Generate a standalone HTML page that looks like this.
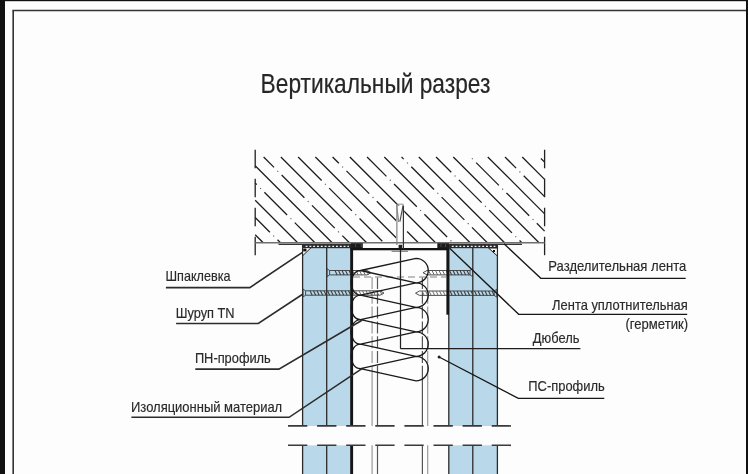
<!DOCTYPE html><html><head><meta charset="utf-8"><style>html,body{margin:0;padding:0;background:#fdfdfd;overflow:hidden}</style></head><body><svg width="748" height="474" viewBox="0 0 748 474" style="display:block;font-family:'Liberation Sans',sans-serif"><rect x="0" y="0" width="748" height="474" fill="#fdfdfd"/><rect x="0" y="0" width="5" height="474" fill="#111"/><rect x="0" y="0" width="748" height="1.2" fill="#111"/><rect x="746" y="0" width="2" height="474" fill="#111"/><line x1="13.2" y1="10.6" x2="13.2" y2="474" stroke="#333" stroke-width="1.6"/><line x1="12.4" y1="10.6" x2="746" y2="10.6" stroke="#333" stroke-width="1.5"/><text x="260.6" y="92.5" font-size="27.2" textLength="229.8" lengthAdjust="spacingAndGlyphs" fill="#262626" stroke="#262626" stroke-width="0.2" style="filter:grayscale(1)">Вертикальный разрез</text><g stroke-linecap="butt"><line x1="255.20" y1="234.76" x2="263.24" y2="242.80" stroke="#1a1a1a" stroke-width="1.25"/><line x1="255.20" y1="217.52" x2="269.89" y2="232.21" stroke="#1a1a1a" stroke-width="1.25"/><line x1="273.29" y1="235.61" x2="274.09" y2="236.41" stroke="#555" stroke-width="1.1"/><line x1="277.49" y1="239.81" x2="280.48" y2="242.80" stroke="#1a1a1a" stroke-width="1.25"/><line x1="255.20" y1="200.28" x2="297.72" y2="242.80" stroke="#1a1a1a" stroke-width="1.25"/><line x1="255.20" y1="183.04" x2="256.78" y2="184.62" stroke="#1a1a1a" stroke-width="1.25"/><line x1="260.18" y1="188.02" x2="260.98" y2="188.82" stroke="#555" stroke-width="1.1"/><line x1="264.38" y1="192.22" x2="287.13" y2="214.97" stroke="#1a1a1a" stroke-width="1.25"/><line x1="290.53" y1="218.37" x2="291.33" y2="219.17" stroke="#555" stroke-width="1.1"/><line x1="294.73" y1="222.57" x2="314.96" y2="242.80" stroke="#1a1a1a" stroke-width="1.25"/><line x1="255.20" y1="165.80" x2="332.20" y2="242.80" stroke="#1a1a1a" stroke-width="1.25"/><line x1="263.64" y1="157.00" x2="274.02" y2="167.38" stroke="#1a1a1a" stroke-width="1.25"/><line x1="277.42" y1="170.78" x2="278.22" y2="171.58" stroke="#555" stroke-width="1.1"/><line x1="281.62" y1="174.98" x2="304.37" y2="197.73" stroke="#1a1a1a" stroke-width="1.25"/><line x1="307.77" y1="201.13" x2="308.57" y2="201.93" stroke="#555" stroke-width="1.1"/><line x1="311.97" y1="205.33" x2="334.72" y2="228.08" stroke="#1a1a1a" stroke-width="1.25"/><line x1="338.12" y1="231.48" x2="338.92" y2="232.28" stroke="#555" stroke-width="1.1"/><line x1="342.32" y1="235.68" x2="349.44" y2="242.80" stroke="#1a1a1a" stroke-width="1.25"/><line x1="280.88" y1="157.00" x2="366.68" y2="242.80" stroke="#1a1a1a" stroke-width="1.25"/><line x1="298.12" y1="157.00" x2="321.61" y2="180.49" stroke="#1a1a1a" stroke-width="1.25"/><line x1="325.01" y1="183.89" x2="325.81" y2="184.69" stroke="#555" stroke-width="1.1"/><line x1="329.21" y1="188.09" x2="351.96" y2="210.84" stroke="#1a1a1a" stroke-width="1.25"/><line x1="355.36" y1="214.24" x2="356.16" y2="215.04" stroke="#555" stroke-width="1.1"/><line x1="359.56" y1="218.44" x2="382.31" y2="241.19" stroke="#1a1a1a" stroke-width="1.25"/><line x1="315.36" y1="157.00" x2="401.16" y2="242.80" stroke="#1a1a1a" stroke-width="1.25"/><line x1="332.60" y1="157.00" x2="338.85" y2="163.25" stroke="#1a1a1a" stroke-width="1.25"/><line x1="342.25" y1="166.65" x2="343.05" y2="167.45" stroke="#555" stroke-width="1.1"/><line x1="346.45" y1="170.85" x2="369.20" y2="193.60" stroke="#1a1a1a" stroke-width="1.25"/><line x1="372.60" y1="197.00" x2="373.40" y2="197.80" stroke="#555" stroke-width="1.1"/><line x1="376.80" y1="201.20" x2="399.55" y2="223.95" stroke="#1a1a1a" stroke-width="1.25"/><line x1="402.95" y1="227.35" x2="403.75" y2="228.15" stroke="#555" stroke-width="1.1"/><line x1="407.15" y1="231.55" x2="418.40" y2="242.80" stroke="#1a1a1a" stroke-width="1.25"/><line x1="349.84" y1="157.00" x2="435.64" y2="242.80" stroke="#1a1a1a" stroke-width="1.25"/><line x1="367.08" y1="157.00" x2="386.44" y2="176.36" stroke="#1a1a1a" stroke-width="1.25"/><line x1="389.84" y1="179.76" x2="390.64" y2="180.56" stroke="#555" stroke-width="1.1"/><line x1="394.04" y1="183.96" x2="416.79" y2="206.71" stroke="#1a1a1a" stroke-width="1.25"/><line x1="420.19" y1="210.11" x2="420.99" y2="210.91" stroke="#555" stroke-width="1.1"/><line x1="424.39" y1="214.31" x2="447.14" y2="237.06" stroke="#1a1a1a" stroke-width="1.25"/><line x1="450.54" y1="240.46" x2="451.34" y2="241.26" stroke="#555" stroke-width="1.1"/><line x1="384.32" y1="157.00" x2="470.12" y2="242.80" stroke="#1a1a1a" stroke-width="1.25"/><line x1="401.56" y1="157.00" x2="403.68" y2="159.12" stroke="#1a1a1a" stroke-width="1.25"/><line x1="407.08" y1="162.52" x2="407.88" y2="163.32" stroke="#555" stroke-width="1.1"/><line x1="411.28" y1="166.72" x2="434.03" y2="189.47" stroke="#1a1a1a" stroke-width="1.25"/><line x1="437.43" y1="192.87" x2="438.23" y2="193.67" stroke="#555" stroke-width="1.1"/><line x1="441.63" y1="197.07" x2="464.38" y2="219.82" stroke="#1a1a1a" stroke-width="1.25"/><line x1="467.78" y1="223.22" x2="468.58" y2="224.02" stroke="#555" stroke-width="1.1"/><line x1="471.98" y1="227.42" x2="487.36" y2="242.80" stroke="#1a1a1a" stroke-width="1.25"/><line x1="418.80" y1="157.00" x2="504.60" y2="242.80" stroke="#1a1a1a" stroke-width="1.25"/><line x1="436.04" y1="157.00" x2="451.27" y2="172.23" stroke="#1a1a1a" stroke-width="1.25"/><line x1="454.67" y1="175.63" x2="455.47" y2="176.43" stroke="#555" stroke-width="1.1"/><line x1="458.87" y1="179.83" x2="481.62" y2="202.58" stroke="#1a1a1a" stroke-width="1.25"/><line x1="485.02" y1="205.98" x2="485.82" y2="206.78" stroke="#555" stroke-width="1.1"/><line x1="489.22" y1="210.18" x2="511.97" y2="232.93" stroke="#1a1a1a" stroke-width="1.25"/><line x1="515.37" y1="236.33" x2="516.17" y2="237.13" stroke="#555" stroke-width="1.1"/><line x1="519.57" y1="240.53" x2="521.84" y2="242.80" stroke="#1a1a1a" stroke-width="1.25"/><line x1="453.28" y1="157.00" x2="539.08" y2="242.80" stroke="#1a1a1a" stroke-width="1.25"/><line x1="471.91" y1="158.39" x2="472.71" y2="159.19" stroke="#555" stroke-width="1.1"/><line x1="476.11" y1="162.59" x2="498.86" y2="185.34" stroke="#1a1a1a" stroke-width="1.25"/><line x1="502.26" y1="188.74" x2="503.06" y2="189.54" stroke="#555" stroke-width="1.1"/><line x1="506.46" y1="192.94" x2="529.21" y2="215.69" stroke="#1a1a1a" stroke-width="1.25"/><line x1="532.61" y1="219.09" x2="533.41" y2="219.89" stroke="#555" stroke-width="1.1"/><line x1="536.81" y1="223.29" x2="544.60" y2="231.08" stroke="#1a1a1a" stroke-width="1.25"/><line x1="487.76" y1="157.00" x2="544.60" y2="213.84" stroke="#1a1a1a" stroke-width="1.25"/><line x1="505.00" y1="157.00" x2="516.10" y2="168.10" stroke="#1a1a1a" stroke-width="1.25"/><line x1="519.50" y1="171.50" x2="520.30" y2="172.30" stroke="#555" stroke-width="1.1"/><line x1="523.70" y1="175.70" x2="544.60" y2="196.60" stroke="#1a1a1a" stroke-width="1.25"/><line x1="522.24" y1="157.00" x2="544.60" y2="179.36" stroke="#1a1a1a" stroke-width="1.25"/><line x1="540.94" y1="158.46" x2="544.60" y2="162.12" stroke="#1a1a1a" stroke-width="1.25"/></g><line x1="255.2" y1="149.7" x2="255.2" y2="255.2" stroke="#222" stroke-width="1.3" stroke-dasharray="18.6 10.4"/><line x1="544.6" y1="149.7" x2="544.6" y2="255.2" stroke="#222" stroke-width="1.3" stroke-dasharray="18.6 10.4"/><rect x="396.0" y="205.5" width="8.2" height="37" fill="#fdfdfd"/><line x1="255.2" y1="242.8" x2="544.6" y2="242.8" stroke="#6f6f6f" stroke-width="1.5"/><line x1="278.5" y1="244.3" x2="351" y2="244.3" stroke="#333" stroke-width="1.3"/><line x1="449" y1="244.3" x2="522" y2="244.3" stroke="#333" stroke-width="1.3"/><rect x="302.6" y="245" width="48.299999999999955" height="181" fill="#b9d9eb"/><rect x="302.6" y="445.3" width="48.299999999999955" height="30" fill="#b9d9eb"/><line x1="302.6" y1="245" x2="302.6" y2="426" stroke="#2a2a2a" stroke-width="1.3"/><line x1="302.6" y1="445.3" x2="302.6" y2="474" stroke="#2a2a2a" stroke-width="1.3"/><line x1="326.7" y1="245" x2="326.7" y2="426" stroke="#2a2a2a" stroke-width="1.3"/><line x1="326.7" y1="445.3" x2="326.7" y2="474" stroke="#2a2a2a" stroke-width="1.3"/><line x1="350.9" y1="245" x2="350.9" y2="426" stroke="#2a2a2a" stroke-width="1.3"/><line x1="350.9" y1="445.3" x2="350.9" y2="474" stroke="#2a2a2a" stroke-width="1.3"/><rect x="302.6" y="244.6" width="48.299999999999955" height="3.6" fill="#2a2a2a"/><line x1="305.6" y1="246.4" x2="348.9" y2="246.4" stroke="#f4f4f4" stroke-width="1.2" stroke-dasharray="1.9 1.9"/><rect x="448.8" y="245" width="48.599999999999966" height="181" fill="#b9d9eb"/><rect x="448.8" y="445.3" width="48.599999999999966" height="30" fill="#b9d9eb"/><line x1="448.8" y1="245" x2="448.8" y2="426" stroke="#2a2a2a" stroke-width="1.3"/><line x1="448.8" y1="445.3" x2="448.8" y2="474" stroke="#2a2a2a" stroke-width="1.3"/><line x1="472.8" y1="245" x2="472.8" y2="426" stroke="#2a2a2a" stroke-width="1.3"/><line x1="472.8" y1="445.3" x2="472.8" y2="474" stroke="#2a2a2a" stroke-width="1.3"/><line x1="497.4" y1="245" x2="497.4" y2="426" stroke="#2a2a2a" stroke-width="1.3"/><line x1="497.4" y1="445.3" x2="497.4" y2="474" stroke="#2a2a2a" stroke-width="1.3"/><rect x="448.8" y="244.6" width="48.599999999999966" height="3.6" fill="#2a2a2a"/><line x1="451.8" y1="246.4" x2="495.4" y2="246.4" stroke="#f4f4f4" stroke-width="1.2" stroke-dasharray="1.9 1.9"/><path d="M302.6,247.6 L311.2,247.6 L302.6,255.8 Z" fill="#f4f4f4" stroke="#222" stroke-width="1"/><rect x="303.2" y="248.6" width="3.2" height="2.8" fill="#111"/><path d="M497.4,248 L488.5,248 L497.4,256 Z" fill="#f4f4f4" stroke="#222" stroke-width="1"/><rect x="493" y="250" width="2" height="2" fill="#111"/><line x1="372.1" y1="277" x2="372.1" y2="374" stroke="#9a9a9a" stroke-width="1.2" stroke-dasharray="12 2.8"/><line x1="372.1" y1="374" x2="372.1" y2="426" stroke="#9a9a9a" stroke-width="1.2"/><line x1="372.1" y1="445.3" x2="372.1" y2="474" stroke="#9a9a9a" stroke-width="1.2"/><line x1="377.5" y1="277" x2="377.5" y2="374" stroke="#555" stroke-width="1.2" stroke-dasharray="12 2.8"/><line x1="377.5" y1="374" x2="377.5" y2="426" stroke="#555" stroke-width="1.2"/><line x1="377.5" y1="445.3" x2="377.5" y2="474" stroke="#555" stroke-width="1.2"/><line x1="422.4" y1="277" x2="422.4" y2="374" stroke="#555" stroke-width="1.2" stroke-dasharray="12 2.8"/><line x1="422.4" y1="374" x2="422.4" y2="426" stroke="#555" stroke-width="1.2"/><line x1="422.4" y1="445.3" x2="422.4" y2="474" stroke="#555" stroke-width="1.2"/><line x1="427.7" y1="277" x2="427.7" y2="374" stroke="#9a9a9a" stroke-width="1.2" stroke-dasharray="12 2.8"/><line x1="427.7" y1="374" x2="427.7" y2="426" stroke="#9a9a9a" stroke-width="1.2"/><line x1="427.7" y1="445.3" x2="427.7" y2="474" stroke="#9a9a9a" stroke-width="1.2"/><line x1="353" y1="276.9" x2="446.3" y2="276.9" stroke="#aaa" stroke-width="1.5" stroke-dasharray="7 4"/><path d="M327.0,268.7 L327.0,276.7 M327.0,268.7 L329.6,270.5 L367,270.5 L371,272.7 L367,274.9 L329.6,274.9 L327.0,276.7 M329.6,270.5 L329.6,274.9" fill="none" stroke="#3a3a3a" stroke-width="0.9"/><path d="M335.0,270.5 L337.2,274.9 M338.5,270.5 L340.7,274.9 M342.0,270.5 L344.2,274.9 M345.5,270.5 L347.7,274.9 M349.0,270.5 L351.2,274.9" stroke="#3a3a3a" stroke-width="1.05"/><path d="M352.5,270.5 L354.7,274.9 M356.0,270.5 L358.2,274.9 M359.5,270.5 L361.7,274.9 M363.0,270.5 L365.2,274.9 M366.5,270.5 L368.7,274.9" stroke="#6a6a6a" stroke-width="1.0"/><path d="M303.0,289.0 L303.0,297.0 M303.0,289.0 L305.6,290.8 L380,290.8 L384,293.0 L380,295.2 L305.6,295.2 L303.0,297.0 M305.6,290.8 L305.6,295.2" fill="none" stroke="#3a3a3a" stroke-width="0.9"/><path d="M310.0,290.8 L312.2,295.2 M313.5,290.8 L315.7,295.2 M317.0,290.8 L319.2,295.2 M320.5,290.8 L322.7,295.2 M324.0,290.8 L326.2,295.2 M327.5,290.8 L329.7,295.2 M331.0,290.8 L333.2,295.2 M334.5,290.8 L336.7,295.2 M338.0,290.8 L340.2,295.2 M341.5,290.8 L343.7,295.2 M345.0,290.8 L347.2,295.2 M348.5,290.8 L350.7,295.2" stroke="#3a3a3a" stroke-width="1.05"/><path d="M352.0,290.8 L354.2,295.2 M355.5,290.8 L357.7,295.2 M359.0,290.8 L361.2,295.2 M362.5,290.8 L364.7,295.2 M366.0,290.8 L368.2,295.2 M369.5,290.8 L371.7,295.2 M373.0,290.8 L375.2,295.2 M376.5,290.8 L378.7,295.2 M380.0,290.8 L382.2,295.2" stroke="#6a6a6a" stroke-width="1.0"/><path d="M472.6,268.7 L472.6,276.7 M472.6,268.7 L470.0,270.5 L427,270.5 L423,272.7 L427,274.9 L470.0,274.9 L472.6,276.7 M470.0,270.5 L470.0,274.9" fill="none" stroke="#3a3a3a" stroke-width="0.9"/><path d="M467.0,270.5 L469.2,274.9 M463.5,270.5 L465.7,274.9 M460.0,270.5 L462.2,274.9 M456.5,270.5 L458.7,274.9 M453.0,270.5 L455.2,274.9 M449.5,270.5 L451.7,274.9" stroke="#3a3a3a" stroke-width="1.05"/><path d="M446.0,270.5 L448.2,274.9 M442.5,270.5 L444.7,274.9 M439.0,270.5 L441.2,274.9 M435.5,270.5 L437.7,274.9 M432.0,270.5 L434.2,274.9 M428.5,270.5 L430.7,274.9" stroke="#6a6a6a" stroke-width="1.0"/><path d="M496.8,289.2 L496.8,297.2 M496.8,289.2 L494.2,291.0 L419.5,291.0 L415.5,293.2 L419.5,295.4 L494.2,295.4 L496.8,297.2 M494.2,291.0 L494.2,295.4" fill="none" stroke="#3a3a3a" stroke-width="0.9"/><path d="M492.0,291.0 L494.2,295.4 M488.5,291.0 L490.7,295.4 M485.0,291.0 L487.2,295.4 M481.5,291.0 L483.7,295.4 M478.0,291.0 L480.2,295.4 M474.5,291.0 L476.7,295.4 M471.0,291.0 L473.2,295.4 M467.5,291.0 L469.7,295.4 M464.0,291.0 L466.2,295.4 M460.5,291.0 L462.7,295.4 M457.0,291.0 L459.2,295.4 M453.5,291.0 L455.7,295.4 M450.0,291.0 L452.2,295.4" stroke="#3a3a3a" stroke-width="1.05"/><path d="M446.5,291.0 L448.7,295.4 M443.0,291.0 L445.2,295.4 M439.5,291.0 L441.7,295.4 M436.0,291.0 L438.2,295.4 M432.5,291.0 L434.7,295.4 M429.0,291.0 L431.2,295.4 M425.5,291.0 L427.7,295.4 M422.0,291.0 L424.2,295.4" stroke="#6a6a6a" stroke-width="1.0"/><path d="M416.0,258.3 A12.25,12.25 0 0 1 416.0,282.8 M416.0,282.8 A12.25,12.25 0 0 1 416.0,307.3 M416.0,307.3 A12.25,12.25 0 0 1 416.0,331.8 M416.0,331.8 A12.25,12.25 0 0 1 416.0,356.3 M416.0,356.3 A12.25,12.25 0 0 1 416.0,380.8 M360.5,270.5 A9.5,12.275000000000006 0 0 0 360.5,295.05 M360.5,295.05 A9.5,12.275000000000006 0 0 0 360.5,319.6 M360.5,319.6 A9.5,12.274999999999977 0 0 0 360.5,344.15 M360.5,344.15 A9.5,12.275000000000006 0 0 0 360.5,368.7 M360.5,270.5 L416.0,258.3 M360.5,270.5 L416.0,282.8 M360.5,295.05 L416.0,282.8 M360.5,295.05 L416.0,307.3 M360.5,319.6 L416.0,307.3 M360.5,319.6 L416.0,331.8 M360.5,344.15 L416.0,331.8 M360.5,344.15 L416.0,356.3 M360.5,368.7 L416.0,356.3 M360.5,368.7 L416.0,380.8" fill="none" stroke="#1a1a1a" stroke-width="1.35"/><rect x="350.8" y="243.2" width="12" height="5" fill="#1c1c1c"/><path d="M355.6,244 L355.6,247 M361.2,244 L361.2,247" stroke="#555" stroke-width="0.8"/><rect x="437.3" y="243.2" width="11.7" height="5" fill="#1c1c1c"/><path d="M441,244 L441,247 M445.5,244 L445.5,247" stroke="#555" stroke-width="0.8"/><rect x="350.4" y="248" width="98.7" height="2.3" fill="#151515"/><rect x="350.6" y="248" width="2.5" height="178" fill="#151515"/><rect x="350.6" y="445.3" width="2.5" height="30" fill="#151515"/><rect x="446.4" y="248" width="2.7" height="66.7" fill="#151515"/><path d="M396.4,204.2 L403.6,204.2" stroke="#999" stroke-width="1.1" fill="none"/><path d="M396.9,204.6 L396.9,245" stroke="#777" stroke-width="1.1" fill="none"/><path d="M403.4,206 L403.4,249" stroke="#333" stroke-width="1.2" fill="none"/><path d="M396.6,205.4 L398.7,222" stroke="#888" stroke-width="1.2" fill="none"/><path d="M403.2,204.8 L399.9,221.6" stroke="#444" stroke-width="1.1" fill="none"/><rect x="398.6" y="244.8" width="3.6" height="3.4" fill="#222"/><line x1="391.6" y1="251.3" x2="408" y2="251.3" stroke="#888" stroke-width="1.3"/><line x1="400.5" y1="250" x2="400.5" y2="348.8" stroke="#222" stroke-width="1.25"/><rect x="290" y="426.7" width="230" height="18" fill="#fdfdfd"/><line x1="288" y1="425.9" x2="512" y2="425.9" stroke="#3a3a3a" stroke-width="1.6" stroke-dasharray="19.3 9.8"/><line x1="288" y1="445.3" x2="512" y2="445.3" stroke="#3a3a3a" stroke-width="1.6" stroke-dasharray="19.3 9.8"/><polyline points="165.9,287.6 249.8,287.6 302.5,252.3" fill="none" stroke="#2c2c2c" stroke-width="1.6"/><polyline points="176.1,323.5 258.3,323.5 303,294" fill="none" stroke="#2c2c2c" stroke-width="1.6"/><polyline points="195.3,369.1 278.9,369.1 362,320.3" fill="none" stroke="#2c2c2c" stroke-width="1.6"/><polyline points="131.4,417.3 289.1,417.3 362,368.7" fill="none" stroke="#2c2c2c" stroke-width="1.6"/><polyline points="504,243.8 540.8,278.3 685.7,278.3" fill="none" stroke="#161616" stroke-width="1.35"/><polyline points="449.7,248.3 518.7,314.3 687.2,314.3" fill="none" stroke="#161616" stroke-width="1.35"/><polyline points="439.1,357 518.3,398.3 604.3,398.3" fill="none" stroke="#161616" stroke-width="1.35"/><circle cx="439.1" cy="357" r="1.5" fill="#1e1e1e"/><polyline points="400.5,348.7 580.4,348.7" fill="none" stroke="#1e1e1e" stroke-width="1.2"/><text x="165.5" y="281.0" font-size="14.6" textLength="65.0" lengthAdjust="spacingAndGlyphs" fill="#2a2a2a" stroke="#2a2a2a" stroke-width="0.18" style="filter:grayscale(1)">Шпаклевка</text><text x="175.7" y="318.3" font-size="14.6" textLength="58.9" lengthAdjust="spacingAndGlyphs" fill="#2a2a2a" stroke="#2a2a2a" stroke-width="0.18" style="filter:grayscale(1)">Шуруп TN</text><text x="194.9" y="363.2" font-size="14.6" textLength="75.9" lengthAdjust="spacingAndGlyphs" fill="#2a2a2a" stroke="#2a2a2a" stroke-width="0.18" style="filter:grayscale(1)">ПН-профиль</text><text x="131.0" y="411.9" font-size="14.6" textLength="151.2" lengthAdjust="spacingAndGlyphs" fill="#2a2a2a" stroke="#2a2a2a" stroke-width="0.18" style="filter:grayscale(1)">Изоляционный материал</text><text x="548.3" y="271.4" font-size="14.6" textLength="138.0" lengthAdjust="spacingAndGlyphs" fill="#2a2a2a" stroke="#2a2a2a" stroke-width="0.18" style="filter:grayscale(1)">Разделительная лента</text><text x="552.1" y="310.0" font-size="14.6" textLength="135.7" lengthAdjust="spacingAndGlyphs" fill="#2a2a2a" stroke="#2a2a2a" stroke-width="0.18" style="filter:grayscale(1)">Лента уплотнительная</text><text x="625.5" y="329.3" font-size="14.6" textLength="62.5" lengthAdjust="spacingAndGlyphs" fill="#2a2a2a" stroke="#2a2a2a" stroke-width="0.18" style="filter:grayscale(1)">(герметик)</text><text x="532.8" y="343.2" font-size="14.6" textLength="46.6" lengthAdjust="spacingAndGlyphs" fill="#2a2a2a" stroke="#2a2a2a" stroke-width="0.18" style="filter:grayscale(1)">Дюбель</text><text x="528.3" y="391.4" font-size="14.6" textLength="76.4" lengthAdjust="spacingAndGlyphs" fill="#2a2a2a" stroke="#2a2a2a" stroke-width="0.18" style="filter:grayscale(1)">ПС-профиль</text></svg></body></html>
